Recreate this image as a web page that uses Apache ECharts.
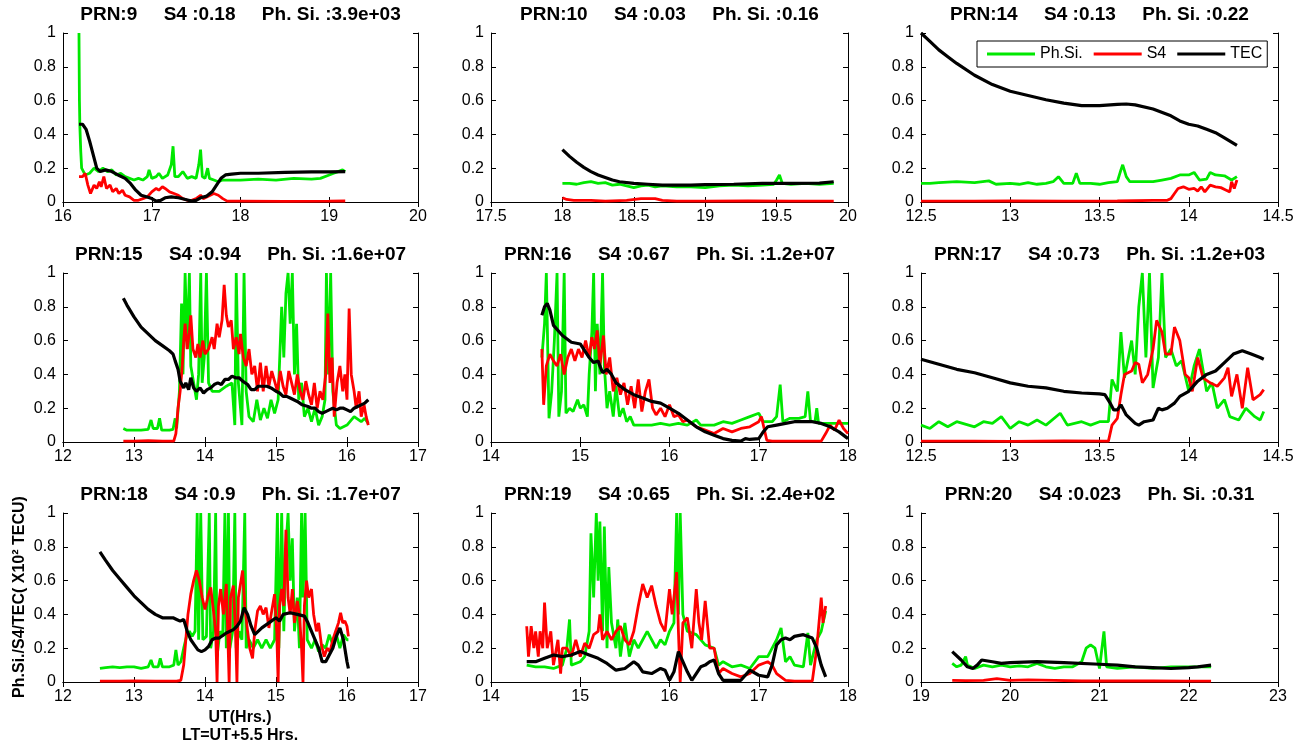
<!DOCTYPE html>
<html>
<head>
<meta charset="utf-8">
<script src="https://cdn.jsdelivr.net/npm/echarts@6/dist/echarts.min.js"></script>
<style>html,body{margin:0;padding:0;background:#fff}#c{width:1307px;height:747px}</style>
</head>
<body>
<div id="c"></div>
<script>
// ---------- data ----------
const titles = [
  'PRN:9     S4 :0.18     Ph. Si. :3.9e+03',
  'PRN:10     S4 :0.03     Ph. Si. :0.16',
  'PRN:14     S4 :0.13     Ph. Si. :0.22',
  'PRN:15     S4 :0.94     Ph. Si. :1.6e+07',
  'PRN:16     S4 :0.67     Ph. Si. :1.2e+07',
  'PRN:17     S4 :0.73     Ph. Si. :1.2e+03',
  'PRN:18     S4 :0.9     Ph. Si. :1.7e+07',
  'PRN:19     S4 :0.65     Ph. Si. :2.4e+02',
  'PRN:20     S4 :0.023     Ph. Si. :0.31'
];
const xRanges = [[16,20,1],[17.5,20,0.5],[12.5,14.5,0.5],[12,17,1],[14,18,1],[12.5,14.5,0.5],[12,17,1],[14,18,1],[19,23,1]];
const seriesNames = ['Ph.Si.','S4','TEC'];

const p9_ps = [[16.18,1.0],[16.185,0.6],[16.19,0.45],[16.2,0.3],[16.21,0.2],[16.25,0.16],[16.3,0.17],[16.35,0.2],[16.4,0.18],[16.45,0.2],[16.5,0.18],[16.55,0.19],[16.6,0.16],[16.65,0.17],[16.7,0.15],[16.75,0.14],[16.8,0.13],[16.85,0.14],[16.9,0.13],[16.95,0.15],[16.97,0.19],[17.0,0.14],[17.05,0.15],[17.08,0.17],[17.12,0.14],[17.18,0.16],[17.22,0.22],[17.24,0.33],[17.26,0.15],[17.3,0.15],[17.35,0.18],[17.4,0.14],[17.45,0.15],[17.5,0.14],[17.53,0.22],[17.55,0.31],[17.57,0.15],[17.6,0.14],[17.63,0.2],[17.65,0.14],[17.7,0.13],[17.75,0.12],[17.8,0.13],[17.9,0.13],[18.0,0.13],[18.2,0.135],[18.4,0.13],[18.6,0.14],[18.8,0.135],[18.9,0.14],[19.0,0.16],[19.05,0.17],[19.1,0.18],[19.15,0.19],[19.18,0.18]];
const p9_s4 = [[16.18,0.15],[16.22,0.15],[16.25,0.17],[16.28,0.1],[16.31,0.05],[16.35,0.1],[16.38,0.08],[16.41,0.12],[16.43,0.09],[16.46,0.15],[16.49,0.08],[16.53,0.1],[16.56,0.06],[16.6,0.08],[16.63,0.05],[16.67,0.07],[16.7,0.04],[16.75,0.03],[16.8,0.01],[16.85,0.01],[16.9,0.02],[16.95,0.03],[17.0,0.06],[17.05,0.08],[17.08,0.07],[17.12,0.09],[17.15,0.08],[17.2,0.06],[17.25,0.05],[17.3,0.04],[17.35,0.02],[17.4,0.01],[17.45,0.01],[17.5,0.02],[17.55,0.04],[17.58,0.02],[17.62,0.03],[17.7,0.05],[17.75,0.04],[17.8,0.02],[17.85,0.005],[18.0,0.005],[18.5,0.004],[19.0,0.005],[19.18,0.006]];
const p9_tec = [[16.18,0.46],[16.22,0.46],[16.26,0.43],[16.3,0.36],[16.34,0.28],[16.38,0.2],[16.42,0.18],[16.48,0.19],[16.55,0.18],[16.62,0.16],[16.7,0.14],[16.76,0.11],[16.82,0.07],[16.88,0.04],[16.95,0.03],[17.0,0.02],[17.05,0.005],[17.1,0.01],[17.15,0.025],[17.22,0.03],[17.3,0.025],[17.38,0.015],[17.45,0.005],[17.5,0.01],[17.55,0.025],[17.62,0.035],[17.68,0.06],[17.73,0.1],[17.78,0.14],[17.83,0.16],[17.9,0.165],[18.0,0.17],[18.2,0.17],[18.5,0.175],[18.8,0.178],[19.0,0.178],[19.18,0.18]];

const p10_ps = [[18.0,0.11],[18.05,0.11],[18.1,0.105],[18.15,0.115],[18.2,0.12],[18.25,0.11],[18.3,0.115],[18.35,0.1],[18.4,0.105],[18.45,0.095],[18.5,0.085],[18.55,0.095],[18.6,0.1],[18.65,0.09],[18.7,0.095],[18.8,0.09],[18.9,0.09],[19.0,0.085],[19.1,0.095],[19.2,0.1],[19.3,0.095],[19.4,0.1],[19.48,0.105],[19.5,0.13],[19.52,0.16],[19.54,0.11],[19.6,0.105],[19.7,0.11],[19.8,0.105],[19.9,0.11]];
const p10_s4 = [[18.0,0.025],[18.03,0.015],[18.08,0.01],[18.2,0.01],[18.3,0.005],[18.45,0.01],[18.55,0.02],[18.65,0.02],[18.7,0.01],[18.8,0.005],[19.0,0.005],[19.3,0.006],[19.6,0.005],[19.9,0.005]];
const p10_tec = [[18.0,0.31],[18.05,0.27],[18.1,0.235],[18.15,0.205],[18.2,0.18],[18.25,0.16],[18.3,0.145],[18.35,0.13],[18.4,0.12],[18.5,0.11],[18.6,0.105],[18.7,0.1],[18.8,0.1],[18.9,0.1],[19.0,0.103],[19.2,0.105],[19.4,0.11],[19.6,0.11],[19.8,0.112],[19.9,0.12]];

const p14_ps = [[12.5,0.11],[12.55,0.11],[12.6,0.115],[12.7,0.12],[12.8,0.115],[12.88,0.125],[12.92,0.105],[13.0,0.11],[13.05,0.105],[13.1,0.115],[13.15,0.105],[13.2,0.11],[13.24,0.12],[13.27,0.15],[13.3,0.11],[13.35,0.11],[13.37,0.17],[13.39,0.11],[13.45,0.11],[13.5,0.105],[13.55,0.115],[13.6,0.12],[13.62,0.19],[13.63,0.22],[13.65,0.15],[13.67,0.12],[13.75,0.12],[13.8,0.12],[13.85,0.13],[13.9,0.14],[13.95,0.16],[14.0,0.16],[14.03,0.175],[14.06,0.13],[14.1,0.135],[14.12,0.175],[14.15,0.16],[14.2,0.155],[14.24,0.13],[14.27,0.15]];
const p14_s4 = [[12.5,0.005],[12.8,0.005],[13.0,0.006],[13.3,0.005],[13.6,0.006],[13.8,0.01],[13.88,0.01],[13.9,0.02],[13.92,0.05],[13.94,0.08],[13.97,0.09],[14.0,0.075],[14.03,0.08],[14.05,0.065],[14.07,0.09],[14.09,0.06],[14.12,0.1],[14.15,0.09],[14.18,0.085],[14.21,0.07],[14.23,0.06],[14.24,0.12],[14.255,0.08],[14.27,0.13]];
const p14_tec = [[12.5,1.0],[12.55,0.95],[12.6,0.9],[12.65,0.86],[12.7,0.82],[12.8,0.75],[12.9,0.695],[13.0,0.655],[13.1,0.63],[13.2,0.605],[13.3,0.585],[13.4,0.57],[13.5,0.57],[13.6,0.578],[13.65,0.58],[13.7,0.575],[13.8,0.55],[13.9,0.51],[13.95,0.48],[14.0,0.46],[14.05,0.45],[14.1,0.43],[14.15,0.41],[14.2,0.38],[14.27,0.335]];

const p15_ps = [[12.85,0.08],[12.9,0.07],[13.0,0.07],[13.1,0.07],[13.2,0.075],[13.24,0.13],[13.27,0.08],[13.33,0.08],[13.36,0.14],[13.39,0.07],[13.5,0.07],[13.55,0.075],[13.58,0.14],[13.6,0.08],[13.64,0.3],[13.67,0.82],[13.69,0.4],[13.72,1.0],[13.75,0.55],[13.78,1.0],[13.8,0.45],[13.84,0.35],[13.88,0.25],[13.91,0.4],[13.94,1.0],[13.96,0.35],[13.99,0.5],[14.02,1.0],[14.05,0.35],[14.1,0.3],[14.2,0.3],[14.3,0.33],[14.38,0.35],[14.42,0.1],[14.44,1.0],[14.47,0.35],[14.52,0.1],[14.55,1.0],[14.58,0.3],[14.62,0.15],[14.68,0.12],[14.73,0.25],[14.78,0.13],[14.83,0.2],[14.88,0.14],[14.93,0.25],[14.98,0.17],[15.03,0.25],[15.08,0.8],[15.11,0.5],[15.14,0.88],[15.17,1.0],[15.2,0.7],[15.23,1.0],[15.26,0.4],[15.29,0.7],[15.32,0.25],[15.36,0.35],[15.4,0.15],[15.45,0.2],[15.5,0.12],[15.55,0.2],[15.6,0.1],[15.65,0.15],[15.69,0.25],[15.71,1.0],[15.74,0.4],[15.77,1.0],[15.8,0.3],[15.85,0.1],[15.9,0.08],[16.0,0.1],[16.1,0.15],[16.2,0.12],[16.25,0.14],[16.3,0.11]];
const p15_s4 = [[12.85,0.005],[13.0,0.005],[13.2,0.008],[13.4,0.005],[13.56,0.005],[13.59,0.05],[13.62,0.2],[13.65,0.3],[13.68,0.45],[13.7,0.6],[13.72,0.7],[13.75,0.55],[13.78,0.65],[13.8,0.75],[13.83,0.55],[13.87,0.5],[13.9,0.58],[13.93,0.5],[13.97,0.6],[14.0,0.52],[14.05,0.55],[14.1,0.62],[14.13,0.55],[14.17,0.7],[14.2,0.62],[14.24,0.72],[14.27,0.93],[14.3,0.75],[14.33,0.68],[14.37,0.72],[14.4,0.55],[14.44,0.62],[14.48,0.52],[14.5,0.64],[14.54,0.5],[14.58,0.45],[14.62,0.55],[14.66,0.4],[14.7,0.45],[14.74,0.3],[14.78,0.47],[14.82,0.3],[14.86,0.45],[14.9,0.33],[14.94,0.42],[14.98,0.36],[15.02,0.3],[15.06,0.42],[15.1,0.33],[15.14,0.28],[15.18,0.42],[15.22,0.35],[15.26,0.28],[15.3,0.4],[15.34,0.3],[15.38,0.25],[15.42,0.36],[15.46,0.28],[15.5,0.22],[15.54,0.35],[15.58,0.2],[15.62,0.3],[15.66,0.25],[15.7,0.4],[15.73,0.76],[15.76,0.35],[15.79,0.5],[15.82,0.15],[15.86,0.35],[15.9,0.45],[15.94,0.3],[15.97,0.4],[16.0,0.25],[16.03,0.79],[16.06,0.4],[16.1,0.3],[16.13,0.2],[16.17,0.3],[16.2,0.15],[16.24,0.22],[16.27,0.15],[16.3,0.1]];
const p15_tec = [[12.85,0.85],[12.9,0.81],[13.0,0.74],[13.1,0.68],[13.2,0.64],[13.3,0.6],[13.4,0.57],[13.5,0.54],[13.55,0.52],[13.58,0.48],[13.62,0.43],[13.65,0.36],[13.7,0.32],[13.73,0.35],[13.77,0.31],[13.8,0.38],[13.84,0.32],[13.88,0.3],[13.93,0.32],[13.98,0.29],[14.03,0.31],[14.08,0.32],[14.13,0.34],[14.18,0.35],[14.23,0.34],[14.28,0.37],[14.33,0.37],[14.38,0.39],[14.43,0.38],[14.48,0.38],[14.53,0.36],[14.6,0.34],[14.65,0.31],[14.7,0.31],[14.75,0.33],[14.8,0.33],[14.87,0.33],[14.93,0.32],[15.0,0.3],[15.05,0.29],[15.1,0.27],[15.15,0.27],[15.2,0.26],[15.3,0.24],[15.37,0.22],[15.45,0.21],[15.5,0.2],[15.55,0.2],[15.6,0.18],[15.65,0.17],[15.7,0.18],[15.75,0.19],[15.8,0.2],[15.85,0.19],[15.9,0.2],[15.95,0.2],[16.0,0.19],[16.05,0.18],[16.1,0.2],[16.15,0.21],[16.2,0.22],[16.25,0.23],[16.3,0.25]];

const p16_ps = [[14.57,0.5],[14.6,0.7],[14.62,1.0],[14.64,1.0],[14.65,0.14],[14.68,0.3],[14.71,0.6],[14.74,1.0],[14.76,0.15],[14.79,0.3],[14.82,1.0],[14.84,0.17],[14.88,0.2],[14.92,0.18],[14.97,0.25],[15.0,0.2],[15.04,0.22],[15.08,0.15],[15.1,0.4],[15.13,0.65],[15.15,1.0],[15.17,0.3],[15.19,0.7],[15.22,0.4],[15.25,1.0],[15.27,0.45],[15.3,0.2],[15.33,0.3],[15.37,0.15],[15.4,0.33],[15.44,0.15],[15.48,0.2],[15.52,0.12],[15.56,0.15],[15.6,0.1],[15.7,0.1],[15.8,0.1],[15.9,0.11],[16.0,0.1],[16.1,0.11],[16.2,0.1],[16.3,0.13],[16.35,0.1],[16.5,0.1],[16.6,0.12],[16.7,0.11],[16.8,0.13],[16.9,0.15],[17.0,0.17],[17.05,0.12],[17.15,0.12],[17.2,0.15],[17.24,0.34],[17.27,0.12],[17.35,0.14],[17.45,0.14],[17.52,0.15],[17.55,0.3],[17.58,0.12],[17.63,0.12],[17.65,0.2],[17.67,0.11],[17.8,0.11],[17.9,0.11],[18.0,0.11]];
const p16_s4 = [[14.57,0.55],[14.59,0.22],[14.62,0.45],[14.66,0.52],[14.7,0.48],[14.74,0.45],[14.78,0.52],[14.82,0.4],[14.86,0.5],[14.9,0.55],[14.94,0.48],[14.98,0.55],[15.02,0.5],[15.06,0.6],[15.1,0.5],[15.13,0.62],[15.16,0.55],[15.19,0.66],[15.22,0.45],[15.26,0.63],[15.29,0.4],[15.33,0.5],[15.37,0.3],[15.41,0.38],[15.45,0.28],[15.49,0.35],[15.53,0.22],[15.57,0.33],[15.61,0.2],[15.65,0.37],[15.69,0.18],[15.73,0.3],[15.77,0.37],[15.81,0.2],[15.85,0.16],[15.9,0.2],[15.95,0.15],[16.0,0.22],[16.05,0.15],[16.1,0.16],[16.15,0.12],[16.2,0.13],[16.3,0.09],[16.4,0.07],[16.5,0.05],[16.6,0.08],[16.7,0.06],[16.8,0.08],[16.9,0.09],[17.0,0.12],[17.03,0.15],[17.06,0.08],[17.09,0.01],[17.15,0.005],[17.4,0.005],[17.7,0.005],[17.75,0.05],[17.8,0.1],[17.85,0.07],[17.9,0.13],[17.95,0.08],[18.0,0.05]];
const p16_tec = [[14.57,0.75],[14.6,0.8],[14.63,0.82],[14.66,0.78],[14.7,0.69],[14.8,0.63],[14.9,0.59],[15.0,0.58],[15.1,0.5],[15.15,0.47],[15.2,0.48],[15.22,0.45],[15.25,0.41],[15.3,0.43],[15.35,0.4],[15.4,0.35],[15.5,0.31],[15.6,0.28],[15.7,0.26],[15.8,0.24],[15.9,0.23],[16.0,0.2],[16.1,0.17],[16.2,0.13],[16.3,0.09],[16.4,0.06],[16.5,0.04],[16.6,0.02],[16.7,0.01],[16.8,0.005],[16.85,0.02],[16.9,0.015],[17.0,0.02],[17.05,0.06],[17.1,0.09],[17.2,0.1],[17.3,0.11],[17.4,0.12],[17.5,0.12],[17.6,0.12],[17.7,0.11],[17.8,0.09],[17.9,0.06],[18.0,0.02]];

const p17_ps = [[12.5,0.1],[12.55,0.08],[12.6,0.12],[12.65,0.09],[12.7,0.12],[12.8,0.09],[12.85,0.12],[12.9,0.11],[12.95,0.15],[13.0,0.08],[13.05,0.12],[13.1,0.1],[13.15,0.13],[13.2,0.1],[13.28,0.17],[13.32,0.1],[13.4,0.12],[13.45,0.1],[13.5,0.12],[13.55,0.12],[13.57,0.37],[13.6,0.3],[13.62,0.65],[13.64,0.38],[13.68,0.6],[13.7,0.4],[13.72,0.8],[13.74,1.0],[13.76,0.5],[13.78,1.0],[13.8,0.32],[13.83,0.5],[13.85,1.0],[13.87,0.5],[13.9,0.55],[13.93,0.45],[13.96,0.48],[14.0,0.3],[14.03,0.45],[14.06,0.55],[14.1,0.3],[14.13,0.35],[14.16,0.2],[14.2,0.25],[14.23,0.15],[14.28,0.13],[14.32,0.2],[14.37,0.15],[14.4,0.13],[14.42,0.18]];
const p17_s4 = [[12.5,0.005],[12.8,0.005],[13.0,0.004],[13.3,0.006],[13.55,0.005],[13.57,0.1],[13.6,0.14],[13.62,0.28],[13.64,0.4],[13.68,0.42],[13.7,0.47],[13.72,0.46],[13.74,0.35],[13.77,0.4],[13.8,0.55],[13.82,0.72],[13.85,0.65],[13.87,0.52],[13.9,0.52],[13.92,0.68],[13.95,0.6],[13.98,0.4],[14.0,0.38],[14.02,0.3],[14.05,0.5],[14.08,0.38],[14.12,0.35],[14.16,0.33],[14.2,0.38],[14.22,0.44],[14.24,0.27],[14.27,0.4],[14.3,0.2],[14.33,0.44],[14.36,0.25],[14.4,0.28],[14.42,0.31]];
const p17_tec = [[12.5,0.49],[12.6,0.46],[12.7,0.43],[12.8,0.41],[12.9,0.38],[13.0,0.35],[13.1,0.33],[13.2,0.32],[13.3,0.3],[13.4,0.29],[13.5,0.285],[13.53,0.28],[13.56,0.23],[13.58,0.19],[13.6,0.19],[13.62,0.22],[13.65,0.16],[13.7,0.11],[13.72,0.1],[13.75,0.12],[13.8,0.13],[13.83,0.2],[13.85,0.19],[13.88,0.2],[13.92,0.23],[13.95,0.27],[14.0,0.3],[14.05,0.36],[14.1,0.4],[14.15,0.42],[14.2,0.47],[14.25,0.52],[14.3,0.54],[14.35,0.52],[14.4,0.5],[14.42,0.49]];

const p18_ps = [[12.52,0.08],[12.6,0.085],[12.7,0.09],[12.8,0.085],[12.9,0.09],[13.0,0.09],[13.1,0.08],[13.2,0.09],[13.24,0.13],[13.27,0.09],[13.34,0.09],[13.37,0.14],[13.4,0.09],[13.5,0.09],[13.56,0.1],[13.59,0.19],[13.62,0.1],[13.66,0.12],[13.7,0.2],[13.74,0.27],[13.78,0.3],[13.82,0.27],[13.86,0.3],[13.89,1.0],[13.91,0.25],[13.94,1.0],[13.97,0.25],[14.02,0.27],[14.06,1.0],[14.08,0.2],[14.12,0.3],[14.15,1.0],[14.17,0.15],[14.21,0.3],[14.25,0.27],[14.28,1.0],[14.3,0.2],[14.33,1.0],[14.35,0.2],[14.39,0.3],[14.42,1.0],[14.44,0.2],[14.48,0.3],[14.52,0.25],[14.56,1.0],[14.58,0.2],[14.62,0.25],[14.68,0.2],[14.74,0.25],[14.8,0.2],[14.86,0.25],[14.92,0.2],[14.98,0.25],[15.02,1.0],[15.04,0.2],[15.08,1.0],[15.11,0.3],[15.14,0.8],[15.17,1.0],[15.2,0.6],[15.23,0.85],[15.26,0.3],[15.3,0.5],[15.33,0.2],[15.36,1.0],[15.38,0.5],[15.41,1.0],[15.44,0.25],[15.5,0.2],[15.55,0.25],[15.6,0.18],[15.65,0.22],[15.7,0.2],[15.75,0.28],[15.8,0.22],[15.85,0.28],[15.9,0.2],[15.95,0.28],[16.0,0.25],[16.02,0.25]];
const p18_s4 = [[12.52,0.005],[12.8,0.005],[13.0,0.007],[13.3,0.005],[13.6,0.005],[13.66,0.01],[13.7,0.1],[13.73,0.25],[13.76,0.4],[13.8,0.52],[13.84,0.6],[13.88,0.66],[13.92,0.6],[13.96,0.5],[14.0,0.43],[14.04,0.5],[14.08,0.56],[14.12,0.42],[14.15,0.3],[14.17,0.0],[14.19,0.45],[14.22,0.55],[14.26,0.4],[14.3,0.58],[14.32,0.3],[14.34,0.0],[14.36,0.5],[14.4,0.57],[14.43,0.3],[14.45,0.0],[14.47,0.5],[14.5,0.58],[14.53,0.66],[14.56,0.45],[14.6,0.3],[14.63,0.2],[14.67,0.14],[14.7,0.3],[14.74,0.42],[14.78,0.45],[14.82,0.4],[14.86,0.44],[14.9,0.32],[14.94,0.42],[14.98,0.52],[15.01,0.3],[15.03,0.0],[15.05,0.45],[15.08,0.55],[15.11,0.45],[15.14,0.9],[15.17,0.5],[15.2,0.4],[15.23,0.55],[15.26,0.35],[15.3,0.48],[15.33,0.4],[15.36,0.2],[15.38,0.0],[15.4,0.45],[15.43,0.6],[15.46,0.5],[15.5,0.55],[15.53,0.4],[15.57,0.3],[15.6,0.35],[15.64,0.22],[15.68,0.15],[15.72,0.2],[15.76,0.18],[15.8,0.25],[15.84,0.3],[15.88,0.35],[15.91,0.41],[15.94,0.35],[15.97,0.36],[16.0,0.33],[16.02,0.27]];
const p18_tec = [[12.52,0.77],[12.6,0.72],[12.7,0.66],[12.8,0.61],[12.9,0.56],[13.0,0.51],[13.1,0.47],[13.2,0.43],[13.3,0.4],[13.4,0.38],[13.5,0.38],[13.55,0.38],[13.6,0.37],[13.65,0.36],[13.7,0.37],[13.75,0.3],[13.8,0.25],[13.85,0.22],[13.9,0.19],[13.95,0.18],[14.0,0.19],[14.05,0.21],[14.1,0.25],[14.15,0.26],[14.2,0.26],[14.3,0.29],[14.4,0.31],[14.45,0.33],[14.5,0.36],[14.55,0.44],[14.6,0.4],[14.65,0.33],[14.7,0.28],[14.8,0.32],[14.9,0.35],[15.0,0.38],[15.05,0.36],[15.1,0.4],[15.2,0.41],[15.3,0.4],[15.4,0.39],[15.45,0.35],[15.5,0.3],[15.6,0.2],[15.65,0.12],[15.7,0.12],[15.75,0.16],[15.8,0.2],[15.85,0.27],[15.9,0.32],[15.95,0.25],[16.0,0.12],[16.02,0.08]];

const p19_ps = [[14.4,0.1],[14.5,0.09],[14.6,0.09],[14.7,0.08],[14.8,0.1],[14.85,0.2],[14.88,0.37],[14.9,0.1],[15.0,0.12],[15.05,0.15],[15.1,0.3],[15.12,0.88],[15.15,0.5],[15.18,1.0],[15.2,0.6],[15.22,0.95],[15.25,0.3],[15.27,0.92],[15.3,0.2],[15.32,0.68],[15.35,0.35],[15.4,0.2],[15.42,0.37],[15.45,0.15],[15.5,0.35],[15.55,0.15],[15.6,0.25],[15.65,0.2],[15.7,0.25],[15.75,0.3],[15.8,0.25],[15.85,0.2],[15.9,0.25],[15.95,0.22],[16.0,0.3],[16.05,0.35],[16.08,1.0],[16.1,0.4],[16.12,1.0],[16.15,0.4],[16.2,0.3],[16.3,0.28],[16.4,0.22],[16.5,0.2],[16.55,0.1],[16.6,0.12],[16.7,0.09],[16.8,0.1],[16.9,0.08],[17.0,0.15],[17.1,0.15],[17.15,0.2],[17.2,0.25],[17.25,0.32],[17.28,0.2],[17.3,0.12],[17.35,0.15],[17.4,0.1],[17.5,0.09],[17.55,0.29],[17.58,0.1],[17.65,0.25],[17.7,0.3],[17.75,0.42]];
const p19_s4 = [[14.4,0.33],[14.42,0.15],[14.45,0.33],[14.48,0.2],[14.5,0.3],[14.53,0.15],[14.55,0.3],[14.58,0.2],[14.6,0.47],[14.63,0.2],[14.67,0.3],[14.7,0.1],[14.75,0.25],[14.78,0.05],[14.8,0.2],[14.85,0.2],[14.9,0.15],[14.95,0.25],[15.0,0.15],[15.05,0.23],[15.1,0.2],[15.15,0.28],[15.2,0.3],[15.22,0.4],[15.25,0.25],[15.3,0.3],[15.35,0.25],[15.4,0.3],[15.45,0.33],[15.5,0.25],[15.55,0.22],[15.6,0.3],[15.65,0.45],[15.7,0.58],[15.75,0.5],[15.8,0.57],[15.85,0.45],[15.9,0.35],[15.95,0.3],[16.0,0.55],[16.03,0.4],[16.08,0.65],[16.1,0.3],[16.12,0.0],[16.15,0.35],[16.2,0.38],[16.25,0.2],[16.3,0.55],[16.33,0.35],[16.36,0.25],[16.4,0.48],[16.45,0.2],[16.5,0.2],[16.55,0.05],[16.6,0.08],[16.7,0.05],[16.8,0.03],[16.9,0.05],[17.0,0.1],[17.1,0.12],[17.15,0.1],[17.2,0.05],[17.3,0.01],[17.4,0.005],[17.6,0.005],[17.65,0.2],[17.7,0.5],[17.72,0.35],[17.75,0.45]];
const p19_tec = [[14.4,0.12],[14.5,0.12],[14.6,0.14],[14.7,0.16],[14.8,0.15],[14.9,0.16],[15.0,0.18],[15.1,0.16],[15.2,0.14],[15.3,0.11],[15.4,0.07],[15.5,0.08],[15.6,0.12],[15.65,0.1],[15.7,0.06],[15.8,0.05],[15.9,0.08],[15.95,0.07],[16.0,0.01],[16.05,0.06],[16.1,0.18],[16.15,0.12],[16.2,0.06],[16.25,0.01],[16.3,0.05],[16.35,0.09],[16.4,0.1],[16.45,0.12],[16.5,0.13],[16.55,0.05],[16.6,0.01],[16.7,0.01],[16.8,0.01],[16.9,0.07],[17.0,0.04],[17.1,0.03],[17.15,0.1],[17.2,0.22],[17.25,0.25],[17.3,0.26],[17.35,0.25],[17.4,0.27],[17.5,0.28],[17.6,0.26],[17.65,0.2],[17.7,0.1],[17.75,0.03]];

const p20_ps = [[19.35,0.11],[19.4,0.09],[19.45,0.1],[19.5,0.15],[19.52,0.1],[19.6,0.08],[19.7,0.1],[19.8,0.09],[19.9,0.1],[20.0,0.09],[20.1,0.095],[20.2,0.09],[20.3,0.11],[20.4,0.09],[20.5,0.08],[20.6,0.09],[20.7,0.09],[20.8,0.12],[20.85,0.2],[20.9,0.22],[20.95,0.2],[21.0,0.08],[21.05,0.3],[21.08,0.09],[21.2,0.08],[21.4,0.09],[21.6,0.08],[21.8,0.09],[22.0,0.09],[22.25,0.09]];
const p20_s4 = [[19.35,0.01],[19.5,0.008],[19.7,0.01],[19.85,0.02],[20.0,0.01],[20.2,0.012],[20.5,0.01],[20.8,0.006],[21.2,0.006],[21.6,0.007],[22.0,0.005],[22.25,0.005]];
const p20_tec = [[19.35,0.18],[19.45,0.13],[19.52,0.09],[19.58,0.08],[19.63,0.1],[19.68,0.13],[19.8,0.12],[19.9,0.11],[20.0,0.115],[20.3,0.12],[20.6,0.115],[21.0,0.105],[21.2,0.1],[21.4,0.09],[21.6,0.085],[21.8,0.08],[22.0,0.085],[22.1,0.09],[22.25,0.1]];

const panelData = [
  [p9_ps,p9_s4,p9_tec],[p10_ps,p10_s4,p10_tec],[p14_ps,p14_s4,p14_tec],
  [p15_ps,p15_s4,p15_tec],[p16_ps,p16_s4,p16_tec],[p17_ps,p17_s4,p17_tec],
  [p18_ps,p18_s4,p18_tec],[p19_ps,p19_s4,p19_tec],[p20_ps,p20_s4,p20_tec]
];

// ---------- layout / style ----------
const FONT = 'Liberation Sans, Arial, sans-serif';
const colLeft = [63, 491, 921], colWidth = [355, 357, 357];
const rowTop = [33, 273, 513], rowHeight = 169;
const colors = ['#00e800', '#ff0000', '#000000'];
const widths = [2.8, 2.8, 3.2];

const grid = [], xAxis = [], yAxis = [], series = [], graphic = [];
for (let i = 0; i < 9; i++) {
  const r = Math.floor(i / 3), c = i % 3;
  const [xmin, xmax, xint] = xRanges[i];
  grid.push({left: colLeft[c], top: rowTop[r], width: colWidth[c], height: rowHeight, containLabel: false});
  const axLine = {show: true, lineStyle: {color: '#000', width: 1}};
  const tick = {show: true, inside: true, length: 5, lineStyle: {color: '#000'}};
  xAxis.push({type: 'value', gridIndex: i, min: xmin, max: xmax, interval: xint, position: 'bottom',
    axisLine: axLine, axisTick: tick, splitLine: {show: false},
    axisLabel: {color: '#000', fontSize: 16, fontFamily: FONT, margin: 7}});
  xAxis.push({type: 'value', gridIndex: i, min: xmin, max: xmax, interval: xint, position: 'top',
    axisLine: axLine, axisTick: tick, splitLine: {show: false}, axisLabel: {show: false}});
  yAxis.push({type: 'value', gridIndex: i, min: 0, max: 1, interval: 0.2, position: 'left',
    axisLine: axLine, axisTick: tick, splitLine: {show: false},
    axisLabel: {color: '#000', fontSize: 16, fontFamily: FONT, margin: 7}});
  yAxis.push({type: 'value', gridIndex: i, min: 0, max: 1, interval: 0.2, position: 'right',
    axisLine: axLine, axisTick: tick, splitLine: {show: false}, axisLabel: {show: false}});
  for (let s = 0; s < 3; s++) {
    series.push({type: 'line', name: seriesNames[s], xAxisIndex: 2 * i, yAxisIndex: 2 * i,
      data: panelData[i][s], showSymbol: false, symbol: 'none', clip: true,
      lineStyle: {color: colors[s], width: widths[s]}, itemStyle: {color: colors[s]},
      emphasis: {disabled: true}, z: 2 + s});
  }
  graphic.push({type: 'text', x: colLeft[c] + colWidth[c] / 2, y: rowTop[r] - 18,
    style: {text: titles[i], font: 'bold 19px ' + FONT, fill: '#000', textAlign: 'center', textVerticalAlign: 'middle'}});
}
graphic.push({type: 'text', x: 20, y: 597, rotation: Math.PI / 2,
  style: {text: 'Ph.Si./S4/TEC( X10\u00b2 TECU)', font: 'bold 16px ' + FONT, fill: '#000', textAlign: 'center', textVerticalAlign: 'middle'}});
graphic.push({type: 'text', x: 240, y: 718,
  style: {text: 'UT(Hrs.)', font: 'bold 16px ' + FONT, fill: '#000', textAlign: 'center', textVerticalAlign: 'middle'}});
graphic.push({type: 'text', x: 240, y: 736,
  style: {text: 'LT=UT+5.5 Hrs.', font: 'bold 16px ' + FONT, fill: '#000', textAlign: 'center', textVerticalAlign: 'middle'}});

const chart = echarts.init(document.getElementById('c'), null, {renderer: 'canvas'});
chart.setOption({
  backgroundColor: '#fff',
  animation: false,
  grid, xAxis, yAxis, series, graphic,
  legend: {data: seriesNames, left: 977, top: 41, orient: 'horizontal', icon: 'rect',
    itemWidth: 48, itemHeight: 3, itemGap: 11, padding: [5, 5, 5, 10],
    borderColor: '#000', borderWidth: 1, backgroundColor: '#fff',
    textStyle: {color: '#000', fontSize: 16, fontFamily: FONT}, selectedMode: false}
});
</script>
</body>
</html>
